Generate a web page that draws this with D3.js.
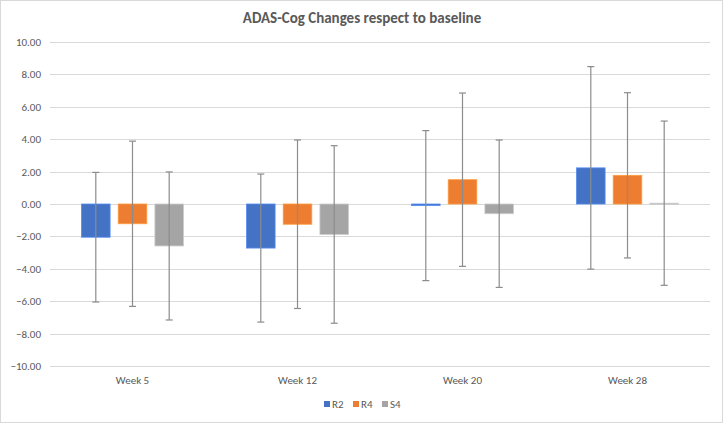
<!DOCTYPE html>
<html><head><meta charset="utf-8">
<script src="https://cdn.jsdelivr.net/npm/d3@7"></script>
<style>html,body{margin:0;padding:0;background:#fff;}</style>
</head><body>
<svg id="c" width="723" height="423"></svg>
<script>
const categories = ["Week 5", "Week 12", "Week 20", "Week 28"];
const seriesNames = ["R2", "R4", "S4"];
const colors = ["#4472C4", "#ED7D31", "#A5A5A5"];
const r2Values = [-2.05, -2.72, -0.10, 2.23];
const r4Values = [-1.22, -1.25, 1.50, 1.77];
const s4Values = [-2.59, -1.88, -0.60, 0.05];
const r2Err = [4.00, 4.57, 4.63, 6.25];
const r4Err = [5.10, 5.20, 5.35, 5.10];
const s4Err = [4.57, 5.48, 4.55, 5.07];
const yTicks = [10, 8, 6, 4, 2, 0, -2, -4, -6, -8, -10];

const values = [r2Values, r4Values, s4Values];
const errs = [r2Err, r4Err, s4Err];

const svg = d3.select("#c");
const font = "Calibri, Carlito, 'Liberation Sans', Arial, sans-serif";
svg.append("rect").attr("x",0.5).attr("y",0.5).attr("width",722).attr("height",422)
  .attr("fill","#fff").attr("stroke","#d9d9d9");

const x = d3.scaleBand().domain(categories).range([50, 710]);
const y = d3.scaleLinear().domain([-10, 10]).range([366, 42]);
const barW = 28.6, barStep = 36.7;
const inner = d3.scalePoint().domain(seriesNames).range([-barStep, barStep]);

// gridlines
svg.append("g").selectAll("line").data(yTicks).join("line")
  .attr("x1", 50).attr("x2", 710)
  .attr("y1", d => Math.round(y(d)) + 0.5).attr("y2", d => Math.round(y(d)) + 0.5)
  .attr("stroke", "#d9d9d9").attr("stroke-width", 1);

// y axis labels
const yAxis = d3.axisLeft(y).tickValues(yTicks).tickSize(0).tickPadding(0).tickFormat(d3.format(".2f"));
const ya = svg.append("g").attr("transform", "translate(41,0)").call(yAxis);
ya.select(".domain").remove();
ya.selectAll("text").attr("fill", "#595959").style("font-family", font).style("font-size", "11px");

// x axis labels
const xAxis = d3.axisBottom(x).tickSize(0).tickPadding(0);
const xa = svg.append("g").attr("transform", "translate(0,376)").call(xAxis);
xa.select(".domain").remove();
xa.selectAll("text").attr("fill", "#595959").style("font-family", font).style("font-size", "11px");

const cxOf = (c, s) => x(c) + x.bandwidth()/2 + inner(s);

// bars
seriesNames.forEach((s, si) => {
  const g = svg.append("g");
  g.selectAll("rect").data(categories).join("rect")
    .attr("x", (c) => cxOf(c, s) - barW/2)
    .attr("width", barW)
    .attr("y", (c, i) => y(Math.max(0, values[si][i])))
    .attr("height", (c, i) => Math.max(1, Math.abs(y(values[si][i]) - y(0))))
    .attr("fill", colors[si])
    .attr("stroke", d3.color(colors[si]).brighter(0.6))
    .attr("stroke-width", 0.8);
});

// error bars
seriesNames.forEach((s, si) => {
  const g = svg.append("g").attr("stroke", "#8c8c8c").attr("stroke-width", 1.2);
  categories.forEach((c, i) => {
    const cx = cxOf(c, s);
    const v = values[si][i], e = errs[si][i];
    g.append("line").attr("x1", cx).attr("x2", cx).attr("y1", y(v + e)).attr("y2", y(v - e));
    g.append("line").attr("x1", cx - 3.5).attr("x2", cx + 3.5).attr("y1", y(v + e)).attr("y2", y(v + e));
    g.append("line").attr("x1", cx - 3.5).attr("x2", cx + 3.5).attr("y1", y(v - e)).attr("y2", y(v - e));
  });
});

// title
svg.append("text").attr("x", 362).attr("y", 23).attr("text-anchor", "middle")
  .attr("fill", "#595959").style("font-family", font).style("font-size", "15px").style("font-weight", "bold")
  .text("ADAS-Cog Changes respect to baseline");

// legend
const legendX = [324, 353, 382];
const lg = svg.append("g");
seriesNames.forEach((s, si) => {
  lg.append("rect").attr("x", legendX[si]).attr("y", 401).attr("width", 6).attr("height", 6).attr("fill", colors[si]);
  lg.append("text").attr("x", legendX[si] + 8).attr("y", 408).attr("fill", "#595959")
    .style("font-family", font).style("font-size", "11px").text(s);
});
</script>
</body></html>
